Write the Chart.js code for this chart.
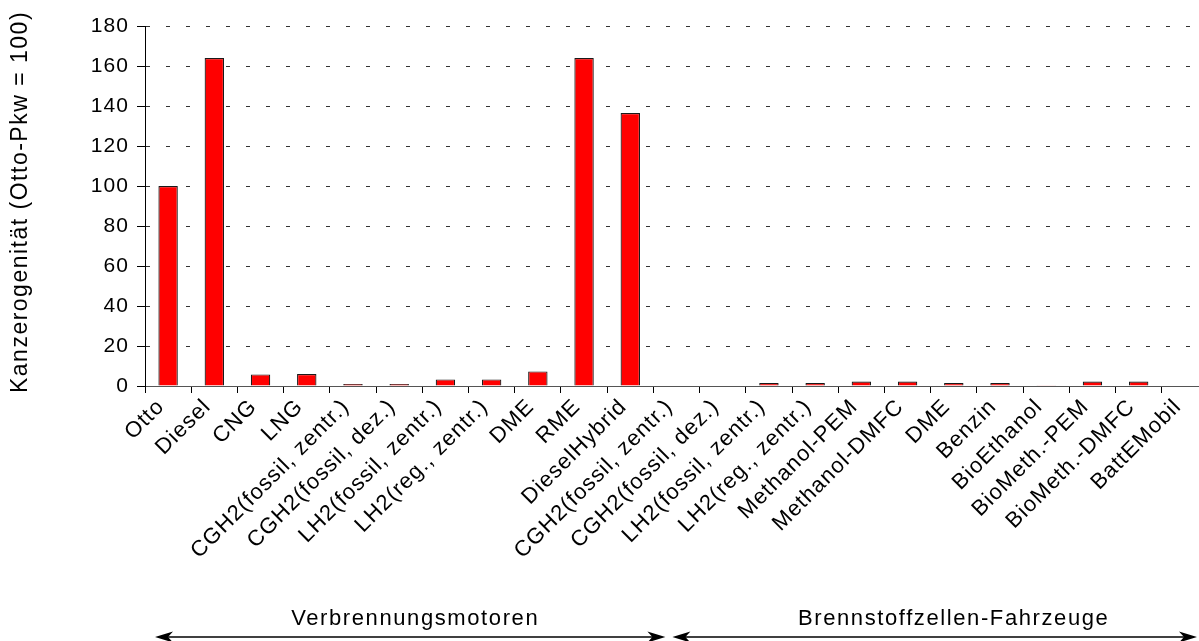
<!DOCTYPE html>
<html><head><meta charset="utf-8">
<script src="https://cdn.jsdelivr.net/npm/chart.js@4/dist/chart.umd.min.js"></script>
<style>
html,body{margin:0;padding:0;background:#fff;overflow:hidden;width:1199px;height:641px}
#wrap{position:absolute;left:0;top:0;width:1212px;height:641px}
</style>
</head><body><div id="wrap"><canvas id="c"></canvas></div>
<script>
const categories = ['Otto','Diesel','CNG','LNG','CGH2(fossil, zentr.)','CGH2(fossil, dez.)','LH2(fossil, zentr.)','LH2(reg., zentr.)','DME','RME','DieselHybrid',
  'CGH2(fossil, zentr.)','CGH2(fossil, dez.)','LH2(fossil, zentr.)','LH2(reg., zentr.)','Methanol-PEM','Methanol-DMFC','DME','Benzin','BioEthanol','BioMeth.-PEM','BioMeth.-DMFC','BattEMobil'];
const values = [100,164,5.8,6,1,1,3.3,3.3,7.3,164,136.5,
  0,0,1.5,1.5,2.2,2.2,1.5,1.5,0.4,2.2,2.2,0];
const yTicks = [0,20,40,60,80,100,120,140,160,180];
const yTitle = 'Kanzerogenität (Otto-Pkw = 100)';
const groupLabels = ['Verbrennungsmotoren','Brennstoffzellen-Fahrzeuge'];
const groupSizes = [11, 12];

const FONT = "'Liberation Sans', Arial, sans-serif";

function arrowHead(ctx, x, y, dir) {
  ctx.beginPath();
  ctx.moveTo(x, y);
  ctx.lineTo(x + dir*18, y - 5.5);
  ctx.lineTo(x + dir*13, y);
  ctx.lineTo(x + dir*18, y + 5.5);
  ctx.closePath();
  ctx.fill();
}

const textPlugin = {
  id: 'textStyle',
  beforeDraw(chart) {
    chart.ctx.letterSpacing = '1.1px';
  },
  afterDraw(chart) {
    const ctx = chart.ctx;
    const xs = chart.scales.x;
    const cw = (xs.getPixelForValue(1) - xs.getPixelForValue(0));
    const b = i => xs.getPixelForValue(0) - cw/2 + i*cw;
    const ay = 637;
    ctx.save();
    ctx.fillStyle = '#000';
    ctx.strokeStyle = '#000';
    ctx.lineWidth = 1.6;
    ctx.letterSpacing = '1.6px';
    ctx.font = '22px ' + FONT;
    ctx.textAlign = 'center';
    ctx.textBaseline = 'middle';
    const s1 = 0, e1 = groupSizes[0], e2 = groupSizes[0] + groupSizes[1];
    const arrows = [[b(s1)+10, b(e1)+12], [b(e1)+19, b(e2)-11]];
    const centers = [(b(s1)+b(e1))/2 + 16, (b(e1)+b(e2))/2 + 23];
    arrows.forEach(([x1,x2], i) => {
      ctx.beginPath();
      ctx.moveTo(x1 + 12, ay);
      ctx.lineTo(x2 - 12, ay);
      ctx.stroke();
      arrowHead(ctx, x1, ay, 1);
      arrowHead(ctx, x2, ay, -1);
      ctx.fillText(groupLabels[i], centers[i], 619);
    });
    // y axis title
    const ya = chart.scales.y;
    ctx.translate(21, (ya.top + ya.bottom)/2 - 4);
    ctx.rotate(-Math.PI/2);
    ctx.font = '23px ' + FONT;
    ctx.letterSpacing = '1.5px';
    ctx.fillText(yTitle, 0, 0);
    ctx.restore();
  }
};

new Chart(document.getElementById('c'), {
  type: 'bar',
  data: {
    labels: categories,
    datasets: [{
      data: values,
      backgroundColor: '#ff0000',
      borderColor: '#1a1a1a',
      borderWidth: 1.2,
      barPercentage: 0.42,
      categoryPercentage: 1.0
    }]
  },
  options: {
    responsive: true,
    maintainAspectRatio: false,
    animation: false,
    layout: { padding: { top: 26, right: 4, left: 0, bottom: 0 } },
    plugins: { legend: { display: false }, tooltip: { enabled: false } },
    scales: {
      x: {
        offset: true,
        grid: { display: true, drawOnChartArea: false, drawTicks: true, tickLength: 7, color: '#000', tickColor: '#000', offset: true },
        border: { display: true, color: '#555', width: 1 },
        ticks: { autoSkip: false, maxRotation: 45, minRotation: 45, padding: 1, labelOffset: -7, color: '#000', font: { family: FONT, size: 22 } },
        afterFit(s) { s.height = 255; }
      },
      y: {
        min: 0, max: 180,
        afterBuildTicks(s) { s.ticks = yTicks.map(v => ({ value: v })); },
        grid: { color: '#333', lineWidth: 1, drawTicks: true, tickLength: 8, tickColor: '#000' },
        border: { display: true, color: '#000', width: 1, dash: [4, 16], dashOffset: 0 },
        ticks: { padding: 8, color: '#000', font: { family: FONT, size: 21 } },
        title: { display: false },
        afterFit(s) { s.width = 145; }
      }
    }
  },
  plugins: [textPlugin]
});
</script>
</body></html>
